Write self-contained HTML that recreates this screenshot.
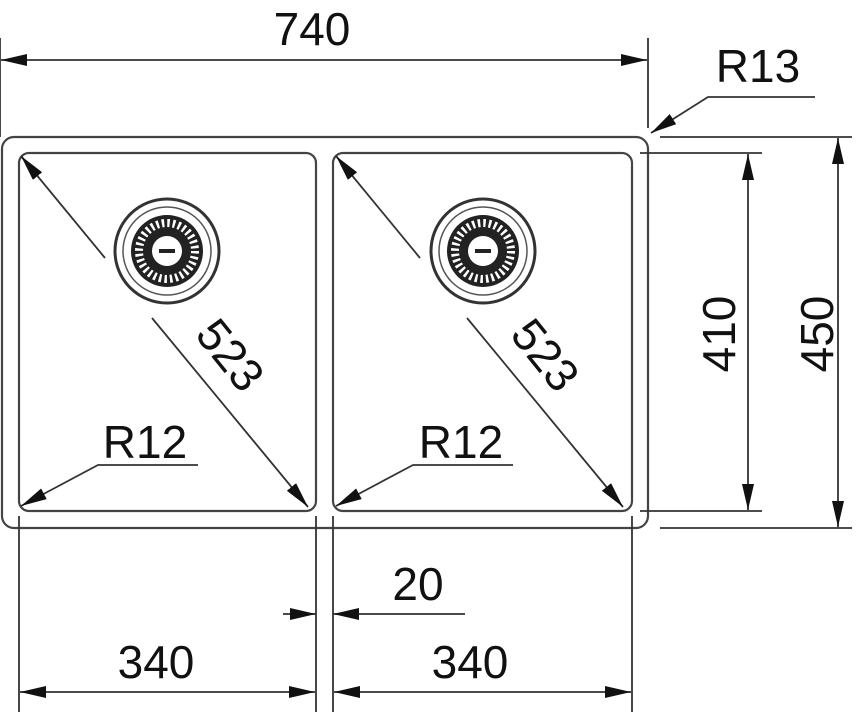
<!DOCTYPE html>
<html><head><style>body{margin:0;background:#fff}svg{display:block}text{font-family:"Liberation Sans",sans-serif;fill:#111}</style></head>
<body>
<svg width="860" height="725" viewBox="0 0 860 725" xmlns="http://www.w3.org/2000/svg">
<defs>
<marker id="a" viewBox="0 0 26 12" refX="26" refY="6" markerWidth="26" markerHeight="12" markerUnits="userSpaceOnUse" preserveAspectRatio="none" orient="auto-start-reverse"><path d="M0,0 L26,6 L0,12 z" fill="#111"/></marker>
</defs>
<g stroke="#444" stroke-width="2.2" fill="none">
<rect x="2" y="137" width="646" height="391" rx="12"/>
<rect x="19" y="153" width="297" height="358" rx="10"/>
<rect x="333" y="153" width="299" height="358" rx="10"/>
</g>
<g stroke="#333" stroke-width="1.8" fill="none">
<line x1="0" y1="38" x2="0" y2="137"/>
<line x1="648" y1="38" x2="648" y2="128"/>
<line x1="1" y1="60" x2="647" y2="60" marker-start="url(#a)" marker-end="url(#a)"/>
<polyline points="815,97 708,97 651,133" marker-end="url(#a)"/>
<line x1="640" y1="153" x2="762" y2="153"/>
<line x1="640" y1="511" x2="762" y2="511"/>
<line x1="748" y1="154" x2="748" y2="510" marker-start="url(#a)" marker-end="url(#a)"/>
<line x1="660" y1="137" x2="852" y2="137"/>
<line x1="660" y1="528" x2="852" y2="528"/>
<line x1="838" y1="138" x2="838" y2="527" marker-start="url(#a)" marker-end="url(#a)"/>
<line x1="19" y1="516" x2="19" y2="712"/>
<line x1="316" y1="516" x2="316" y2="712"/>
<line x1="333" y1="516" x2="333" y2="712"/>
<line x1="632" y1="516" x2="632" y2="712"/>
<line x1="20" y1="692" x2="315" y2="692" marker-start="url(#a)" marker-end="url(#a)"/>
<line x1="334" y1="692" x2="631" y2="692" marker-start="url(#a)" marker-end="url(#a)"/>
<line x1="283" y1="614" x2="316" y2="614" marker-end="url(#a)"/>
<line x1="465" y1="614" x2="333" y2="614" marker-end="url(#a)"/>
<line x1="105" y1="258" x2="21" y2="156" marker-end="url(#a)"/>
<line x1="152" y1="318" x2="308" y2="507" marker-end="url(#a)"/>
<line x1="420" y1="258" x2="336" y2="156" marker-end="url(#a)"/>
<line x1="467" y1="318" x2="623" y2="507" marker-end="url(#a)"/>
<polyline points="198,465 98,465 21,506" marker-end="url(#a)"/>
<polyline points="513,465 413,465 336,506" marker-end="url(#a)"/>
</g>
<g id="d">
<circle cx="167" cy="251" r="52" fill="none" stroke="#333" stroke-width="3"/>
<circle cx="167" cy="251" r="44" fill="none" stroke="#555" stroke-width="1.5"/>
<circle cx="167" cy="251" r="36" fill="#222"/>
<circle cx="167" cy="251" r="28" fill="none" stroke="#fff" stroke-width="8" stroke-dasharray="2.5 3"/>
<circle cx="167" cy="251" r="15" fill="#fff"/>
<rect x="159" y="249" width="16" height="4" fill="#222"/>
</g>
<use href="#d" x="316" y="0"/>
<g font-size="46">
<text x="312" y="45" text-anchor="middle">740</text>
<text x="758" y="82" text-anchor="middle">R13</text>
<text x="145" y="458" text-anchor="middle">R12</text>
<text x="461" y="458" text-anchor="middle">R12</text>
<text x="418" y="600" text-anchor="middle">20</text>
<text x="156" y="678" text-anchor="middle">340</text>
<text x="470" y="678" text-anchor="middle">340</text>
<text transform="translate(735,334) rotate(-90)" text-anchor="middle">410</text>
<text transform="translate(833,334) rotate(-90)" text-anchor="middle">450</text>
<text transform="translate(218,365) rotate(51)" text-anchor="middle">523</text>
<text transform="translate(533,365) rotate(51)" text-anchor="middle">523</text>
</g>
</svg>
</body></html>
